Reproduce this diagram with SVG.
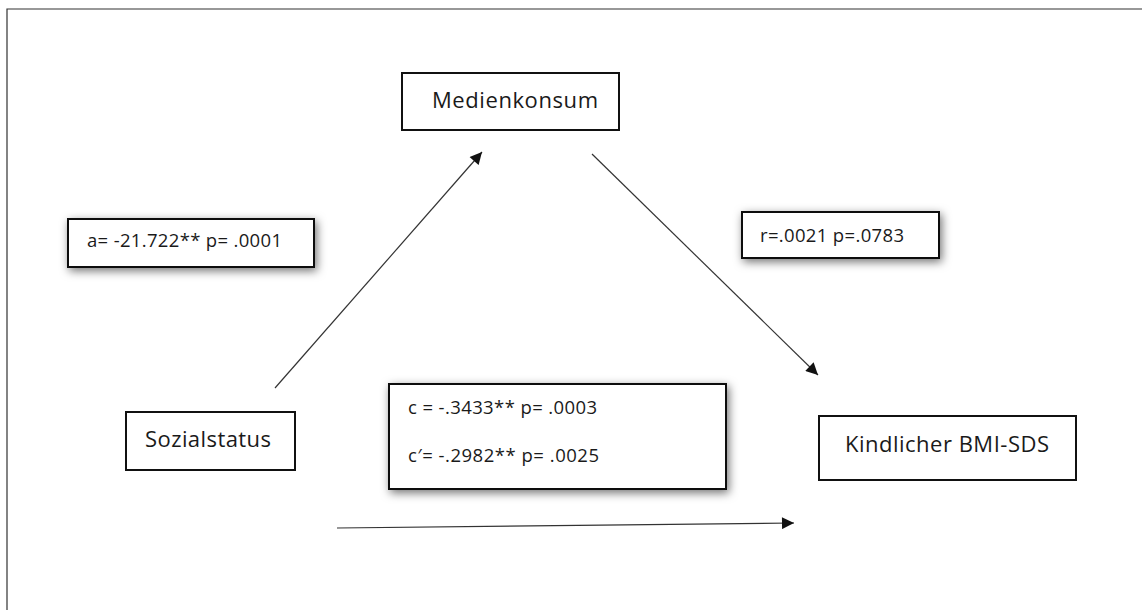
<svg xmlns="http://www.w3.org/2000/svg" width="1142" height="610" viewBox="0 0 1142 610">
<style>
.box{fill:#fff;stroke:#111;stroke-width:2}
.lbl{fill:#fff;stroke:#111;stroke-width:2;filter:url(#sh)}
.t{font-family:"Open Sans","Noto Sans","Liberation Sans",sans-serif;fill:#1a1a1a}
.big{font-size:22px}
.sm{font-size:18.5px}
.con{stroke:#333;stroke-width:1.2;fill:none;marker-end:url(#ah)}
</style>
<defs>
<filter id="sh" x="-20%" y="-40%" width="140%" height="180%">
<feDropShadow dx="2" dy="3" stdDeviation="5" flood-color="#000" flood-opacity="0.55"/>
</filter>
<marker id="ah" viewBox="0 0 10 10" refX="10" refY="5" markerWidth="14" markerHeight="12" markerUnits="userSpaceOnUse" orient="auto">
<path d="M0,0 L10,5 L0,10 z" fill="#111"/>
</marker>
</defs>
<rect width="1142" height="610" fill="#fff"/>
<g id="frame" stroke="#333" stroke-width="1.2" fill="none">
<path d="M7,610 L7,9 L1142,9"/>
</g>
<g id="connectors">
<line class="con" x1="275" y1="388" x2="482" y2="152"/>
<line class="con" x1="592" y1="154" x2="818" y2="375"/>
<line class="con" x1="337" y1="528" x2="794" y2="523"/>
</g>
<g id="medienkonsum">
<rect class="box" x="402" y="73" width="217" height="57"/>
<text class="t big" x="432" y="108" textLength="166">Medienkonsum</text>
</g>
<g id="sozialstatus">
<rect class="box" x="126" y="412" width="169" height="58"/>
<text class="t big" x="145" y="447" textLength="126">Sozialstatus</text>
</g>
<g id="kindlicher-bmi-sds">
<rect class="box" x="819" y="416" width="257" height="64"/>
<text class="t big" x="845" y="452" textLength="204">Kindlicher BMI-SDS</text>
</g>
<g id="label-a">
<rect class="lbl" x="68" y="219" width="246" height="48"/>
<text class="t sm" x="87" y="247" textLength="195">a= -21.722** p= .0001</text>
</g>
<g id="label-r">
<rect class="lbl" x="742" y="212" width="197" height="46"/>
<text class="t sm" x="760" y="242" textLength="144">r=.0021 p=.0783</text>
</g>
<g id="label-c">
<rect class="lbl" x="389" y="384" width="337" height="105"/>
<text class="t sm" x="408" y="414" textLength="189">c = -.3433** p= .0003</text>
<text class="t sm" x="408" y="462" textLength="191">c′= -.2982** p= .0025</text>
</g>
</svg>
